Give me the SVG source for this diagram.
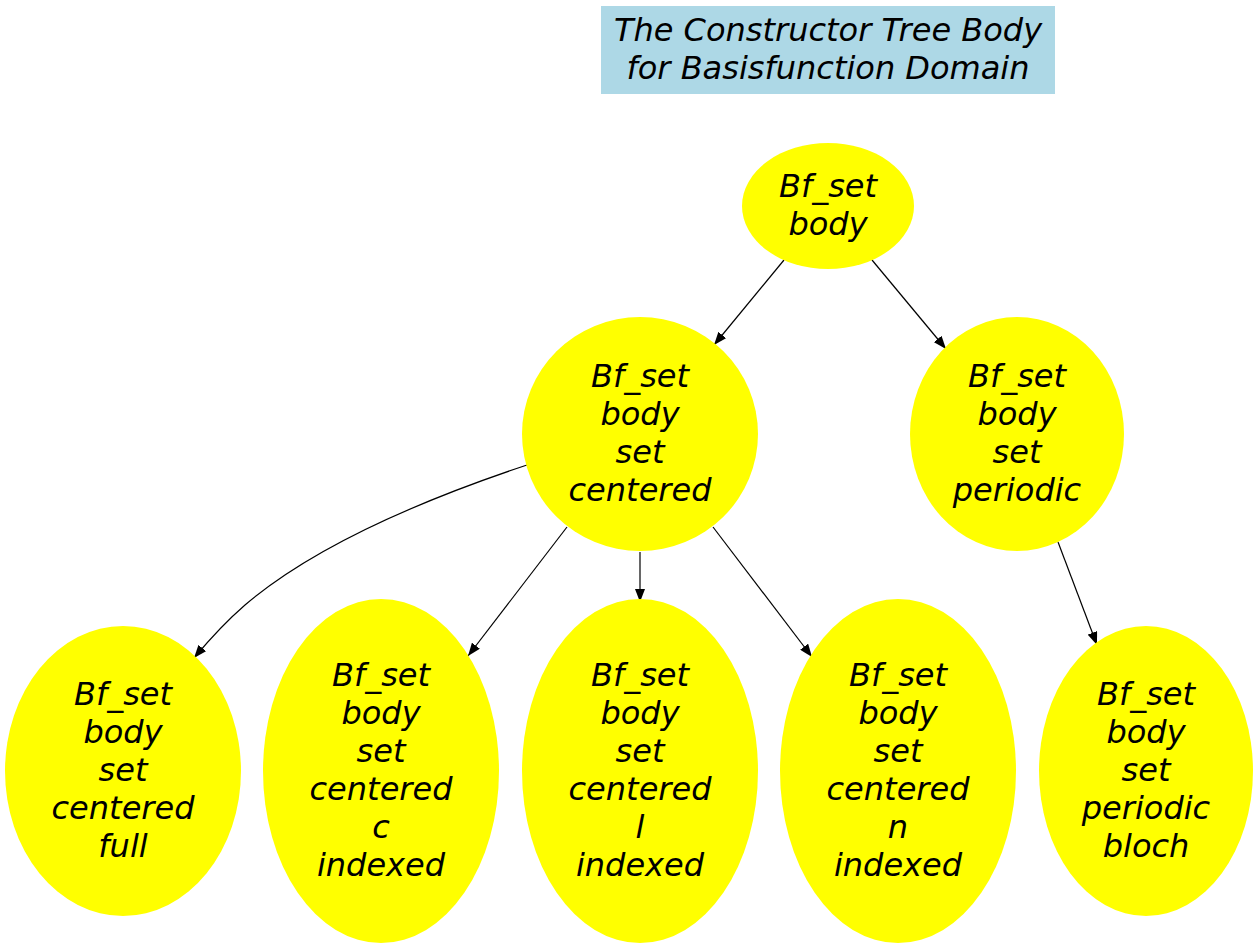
<svg xmlns="http://www.w3.org/2000/svg" width="1259" height="949" viewBox="0 0 1259 949">
<style>
text{font-family:"DejaVu Sans",sans-serif;font-style:oblique;font-size:32px;fill:#000;text-anchor:middle}
.node ellipse{fill:#ffff00;stroke:none}
.edges path{fill:none;stroke:#000;stroke-width:1.2}
</style>
<defs>
<marker id="arr" markerUnits="userSpaceOnUse" markerWidth="14" markerHeight="10" refX="13" refY="5" orient="auto" viewBox="0 0 14 10">
<path d="M0,0 L13,5 L0,10 Z" fill="#000"/>
</marker>
</defs>
<rect width="1259" height="949" fill="#fff"/>
<g id="title">
<rect x="601" y="6" width="454" height="88" fill="#add8e6"/>
<text x="828" y="41">The Constructor Tree Body</text>
<text x="828" y="79">for Basisfunction Domain</text>
</g>
<g class="edges" id="edges">
<path d="M784,260 L714,345" marker-end="url(#arr)"/>
<path d="M872,260 L946,349" marker-end="url(#arr)"/>
<path d="M527,465 C440,494 320,541 245,605 C230,618 214,634 194,658" marker-end="url(#arr)"/>
<path d="M567,527 L468,656" marker-end="url(#arr)"/>
<path d="M640,552 L640,602" marker-end="url(#arr)"/>
<path d="M713,527 L812,657" marker-end="url(#arr)"/>
<path d="M1058,542 L1097,645" marker-end="url(#arr)"/>
</g>
<g class="node" id="n_body">
<ellipse cx="828" cy="206" rx="86" ry="63"/>
<text x="828" y="197">Bf_set</text>
<text x="828" y="235">body</text>
</g>
<g class="node" id="n_centered">
<ellipse cx="640" cy="434" rx="118" ry="117"/>
<text x="640" y="387">Bf_set</text>
<text x="640" y="425">body</text>
<text x="640" y="463">set</text>
<text x="640" y="501">centered</text>
</g>
<g class="node" id="n_periodic">
<ellipse cx="1017" cy="434" rx="107" ry="117"/>
<text x="1017" y="387">Bf_set</text>
<text x="1017" y="425">body</text>
<text x="1017" y="463">set</text>
<text x="1017" y="501">periodic</text>
</g>
<g class="node" id="n_full">
<ellipse cx="123" cy="771" rx="118" ry="145"/>
<text x="123" y="705">Bf_set</text>
<text x="123" y="743">body</text>
<text x="123" y="781">set</text>
<text x="123" y="819">centered</text>
<text x="123" y="857">full</text>
</g>
<g class="node" id="n_c">
<ellipse cx="381" cy="771" rx="118" ry="172"/>
<text x="381" y="686">Bf_set</text>
<text x="381" y="724">body</text>
<text x="381" y="762">set</text>
<text x="381" y="800">centered</text>
<text x="381" y="838">c</text>
<text x="381" y="876">indexed</text>
</g>
<g class="node" id="n_l">
<ellipse cx="640" cy="771" rx="118" ry="172"/>
<text x="640" y="686">Bf_set</text>
<text x="640" y="724">body</text>
<text x="640" y="762">set</text>
<text x="640" y="800">centered</text>
<text x="640" y="838">l</text>
<text x="640" y="876">indexed</text>
</g>
<g class="node" id="n_n">
<ellipse cx="898" cy="771" rx="118" ry="172"/>
<text x="898" y="686">Bf_set</text>
<text x="898" y="724">body</text>
<text x="898" y="762">set</text>
<text x="898" y="800">centered</text>
<text x="898" y="838">n</text>
<text x="898" y="876">indexed</text>
</g>
<g class="node" id="n_bloch">
<ellipse cx="1146" cy="771" rx="107" ry="145"/>
<text x="1146" y="705">Bf_set</text>
<text x="1146" y="743">body</text>
<text x="1146" y="781">set</text>
<text x="1146" y="819">periodic</text>
<text x="1146" y="857">bloch</text>
</g>
</svg>
